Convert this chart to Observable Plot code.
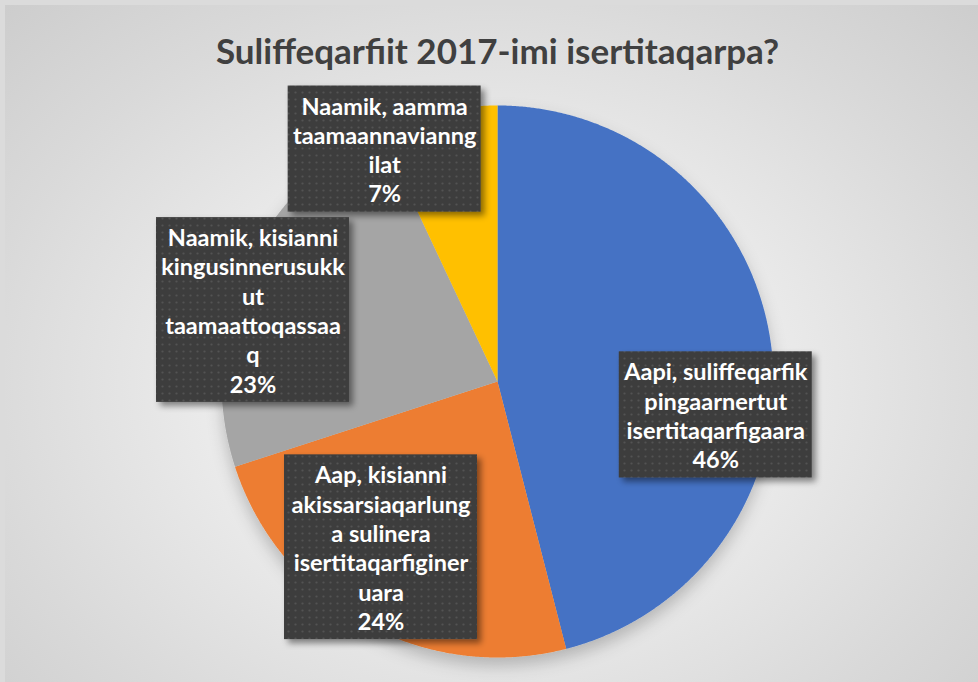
<!DOCTYPE html>
<html><head><meta charset="utf-8">
<script src="https://cdn.jsdelivr.net/npm/d3@7"></script>
<script src="https://cdn.jsdelivr.net/npm/@observablehq/plot@0.6"></script>
<style>
html,body{margin:0;padding:0;background:#dadada;}
#wrap{position:relative;width:978px;height:682px;overflow:hidden;background:#dbdbdb;}
#chart{position:absolute;left:5px;top:5px;}
</style></head><body>
<svg width="0" height="0" style="position:absolute">
<defs>
<pattern id="dots" width="7" height="7" patternUnits="userSpaceOnUse">
<rect width="7" height="7" fill="#3e3e3e"/>
<circle cx="3.5" cy="3.5" r="1.1" fill="#525252"/>
</pattern>
<filter id="boxShadow" x="-20%" y="-20%" width="150%" height="150%">
<feDropShadow dx="4" dy="4" stdDeviation="3" flood-color="#000" flood-opacity="0.45"/>
</filter>
<filter id="pieShadow" x="-20%" y="-20%" width="140%" height="150%">
<feDropShadow dx="0" dy="8" stdDeviation="8" flood-color="#000" flood-opacity="0.22"/>
</filter>
</defs></svg>
<div id="wrap"><div id="chart"></div></div>
<script>
const title = "Suliffeqarfiit 2017-imi isertitaqarpa?";
const categories = [
  "Aapi, suliffeqarfik pingaarnertut isertitaqarfigaara",
  "Aap, kisianni akissarsiaqarlunga sulinera isertitaqarfigineruara",
  "Naamik, kisianni kingusinnerusukkut taamaattoqassaaq",
  "Naamik, aamma taamaannavianngilat"
];
const values = [46, 24, 23, 7];
const labelLines = [
  ["Aapi, suliffeqarfik", "pingaarnertut", "isertitaqarfigaara"],
  ["Aap, kisianni", "akissarsiaqarlung", "a sulinera", "isertitaqarfiginer", "uara"],
  ["Naamik, kisianni", "kingusinnerusukk", "ut", "taamaattoqassaa", "q"],
  ["Naamik, aamma", "taamaannavianng", "ilat"]
];
const colors = ["#4472C4", "#ED7D31", "#A5A5A5", "#FFC000"];

// label placement (Excel manual label layout): angle shift from slice middle (deg) and radius fraction
const labelTurn = [15.9, 6.3, -7.1, -13.3];
const labelRadius = [0.80, 0.734, 0.923, 0.936];

const R = 276;               // pie radius in px
const W = 973, H = 677;
const cx = 492, cy = 376;
const px = 1 / R;            // data units per pixel
const lineH = 29.3;
const boxW = 193;
const labelFont = 23.5;

const data = categories.map((c, i) => ({cat: c, value: values[i]}));
const arcs = d3.pie().sort(null).value(d => d.value)(data);

const slicePts = [];
arcs.forEach(a => {
  slicePts.push({cat: a.data.cat, x: 0, y: 0});
  const n = Math.max(2, Math.ceil((a.endAngle - a.startAngle) / 0.005));
  for (let k = 0; k <= n; k++) {
    const t = a.startAngle + (a.endAngle - a.startAngle) * k / n;
    slicePts.push({cat: a.data.cat, x: Math.sin(t), y: Math.cos(t)});
  }
  slicePts.push({cat: a.data.cat, x: 0, y: 0});
});

const labels = arcs.map((a, i) => {
  const mid = (a.startAngle + a.endAngle) / 2 + labelTurn[i] * Math.PI / 180;
  const x = labelRadius[i] * Math.sin(mid);
  const y = labelRadius[i] * Math.cos(mid);
  const lines = [...labelLines[i], `${values[i]}%`];
  const h = lines.length * lineH + 9;
  return {
    cat: a.data.cat, x, y,
    text: lines.join("\n"),
    x1: x - boxW / 2 * px, x2: x + boxW / 2 * px,
    y1: y - h / 2 * px, y2: y + h / 2 * px
  };
});

const chart = Plot.plot({
  width: W, height: H,
  marginLeft: cx - R, marginRight: W - cx - R,
  marginTop: cy - R, marginBottom: H - cy - R,
  style: {background: "radial-gradient(ellipse farthest-corner at 50% 56%, #f5f5f5 0%, #eeeeee 35%, #d9d9d9 75%, #cdcdcd 100%)", fontFamily: "Lato"},
  x: {domain: [-1, 1], axis: null},
  y: {domain: [-1, 1], axis: null},
  color: {domain: categories, range: colors},
  marks: [
    Plot.line(slicePts, {x: "x", y: "y", z: "cat", fill: "cat", stroke: "none", curve: "linear"}),
    Plot.rect(labels, {x1: "x1", x2: "x2", y1: "y1", y2: "y2", fill: "url(#dots)"}),
    Plot.text(labels, {x: "x", y: "y", text: "text", fill: "white", fontSize: labelFont, fontWeight: "bold",
      fontFamily: "Lato", lineHeight: lineH / labelFont, lineAnchor: "middle", textAnchor: "middle"}),
    Plot.text([title], {text: d => d, frameAnchor: "top", dy: -42, lineAnchor: "bottom",
      fontSize: 35, fontWeight: "bold", fill: "#404040", fontFamily: "Lato"})
  ]
});
d3.select(chart).select('g[aria-label="line"]').attr("filter", "url(#pieShadow)");
d3.select(chart).select('g[aria-label="rect"]').attr("filter", "url(#boxShadow)");
document.getElementById("chart").appendChild(chart);
</script>
</body></html>
